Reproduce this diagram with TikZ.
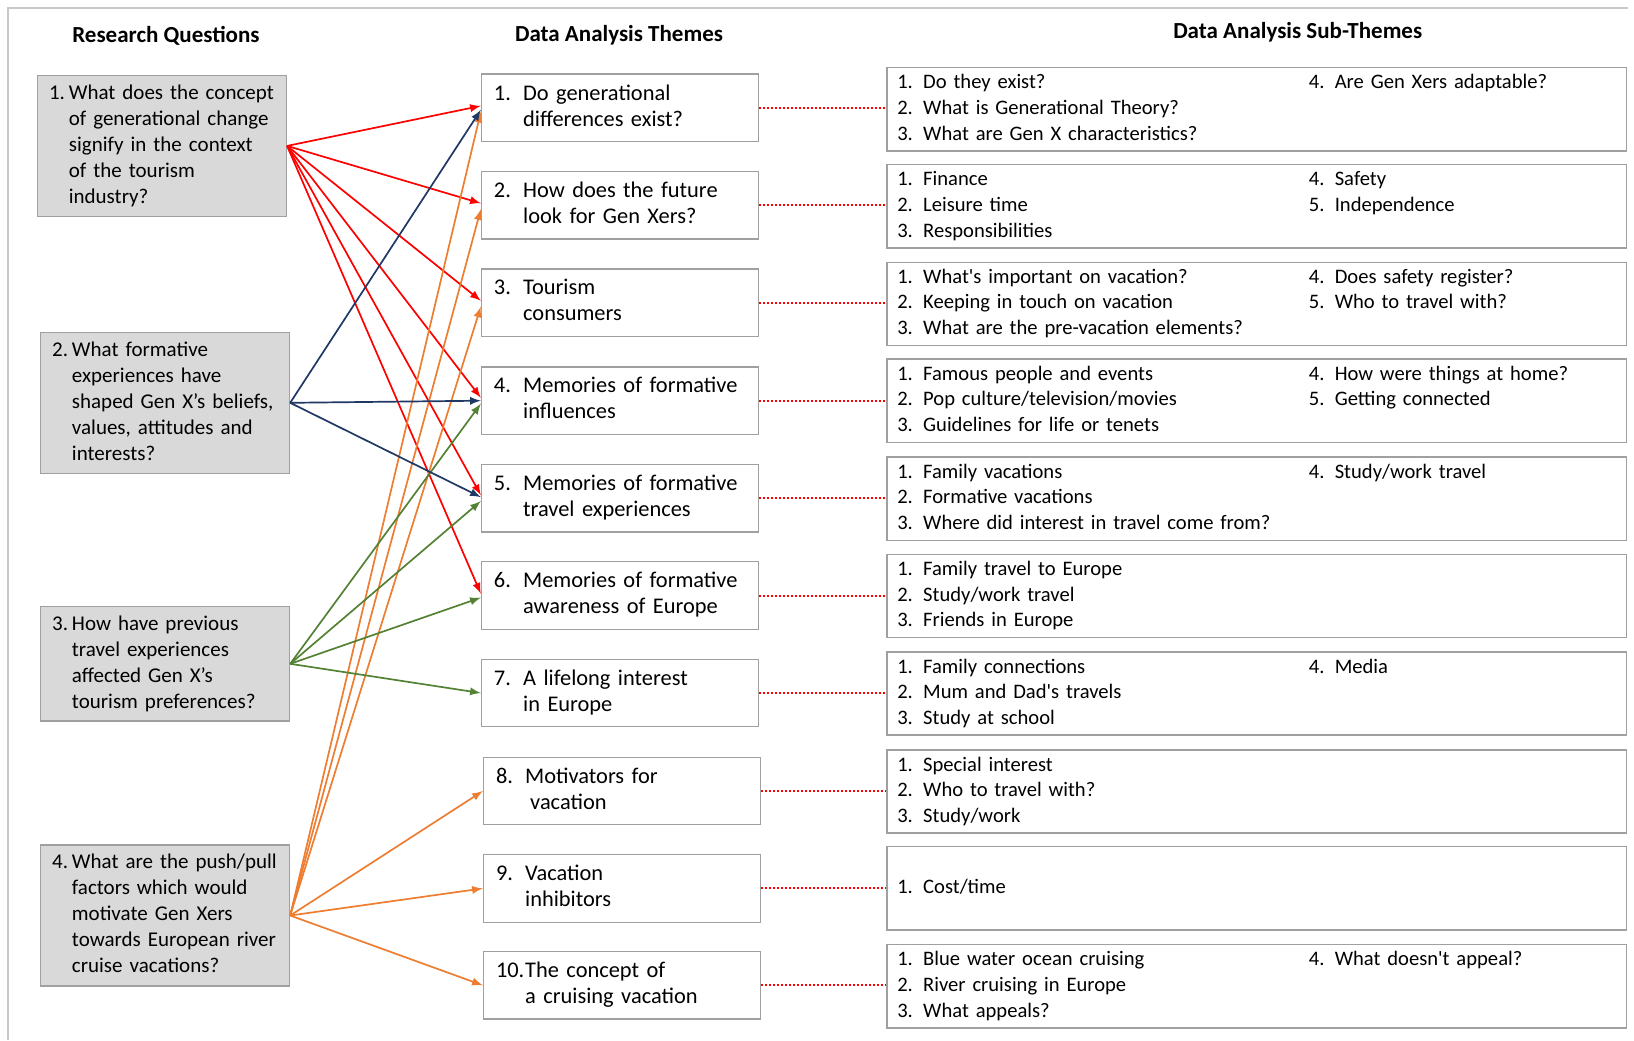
\documentclass[tikz,border=0pt]{standalone}
\usepackage{fontspec}
\setmainfont{Carlito}
\usepackage{tikz}
\usetikzlibrary{positioning, arrows, calc}

\definecolor{QRed}{HTML}{FF0000}
\definecolor{QNavy}{HTML}{203864}
\definecolor{QGreen}{HTML}{548235}
\definecolor{QOrange}{HTML}{ED7D31}
\definecolor{BoxGray}{HTML}{A0A0A0}
\definecolor{BoxFill}{HTML}{D9D9D9}
\definecolor{FrameGray}{HTML}{C8C8C8}

\newcommand{\qtext}[2]{\begin{tabular}{@{}p{9.9pt}@{}l@{}}#1&#2\end{tabular}}
\newcommand{\themetext}[3]{\begin{tabular}{@{}p{14.6pt}@{}l@{}}#1&#2\\&#3\end{tabular}}
\newcommand{\subtext}[1]{\begin{tabular}{@{}p{205.8pt}@{}l@{}}#1\end{tabular}}

\begin{document}
\begin{tikzpicture}[x=0.5pt, y=-0.5pt,
	heading/.style={font=\fontsize{11.5}{13}\selectfont\bfseries},
	question/.style={draw=BoxGray, fill=BoxFill, line width=0.65pt, text width=113pt,
		inner xsep=5.7pt, inner ysep=1pt, align=left, minimum height=70.5pt,
		font=\fontsize{10.5}{13}\selectfont},
	theme/.style={draw=BoxGray, line width=0.65pt, text width=126.1pt,
		inner xsep=6.25pt, inner ysep=1pt, align=left, minimum height=33.8pt,
		font=\fontsize{11.2}{13}\selectfont},
	subtheme/.style={draw=BoxGray, line width=0.65pt, text width=359.5pt,
		inner xsep=5.2pt, inner ysep=1pt, align=left, minimum height=41.6pt,
		font=\fontsize{10.3}{12.8}\selectfont},
	rqlink/.style={-latex, line width=0.85pt},
	dotlink/.style={QRed, densely dotted, line width=1pt}]
	
	\useasboundingbox (0,0) rectangle (1634,1040);
	\draw[FrameGray, line width=0.85pt] (1628,8) -- (8,8) -- (8,1040);
	
	%Headings
	\node (ResearchHead) at (166,35.5) [heading] {Research Questions};
	\node (ThemesHead) at (619,35.5) [heading] {Data Analysis Themes};
	\node (SubThemesHead) at (1297.7,32.3) [heading] {Data Analysis Sub-Themes};
	
	%Research questions
	\node (Question1) at (162.05,145.9) [question] {\qtext{1.}{What does the concept\\&of generational change\\&signify in the context\\&of the tourism\\&industry?}};
	\node (Question2) at (165.15,402.8) [question] {\qtext{2.}{What formative\\&experiences have\\&shaped Gen X’s beliefs,\\&values, attitudes and\\&interests?}};
	\node (Question3) at (165.15,663.8) [question, minimum height=57.3pt] {\qtext{3.}{How have previous\\&travel experiences\\&affected Gen X’s\\&tourism preferences?}};
	\node (Question4) at (165.15,915.5) [question] {\qtext{4.}{What are the push/pull\\&factors which would\\&motivate Gen Xers\\&towards European river\\&cruise vacations?}};
	
	%Themes
	\node (Theme1) at (620.05,107.9) [theme] {\themetext{1.}{Do generational}{differences exist?}};
	\node (Theme2) at (620.05,205.3) [theme] {\themetext{2.}{How does the future}{look for Gen Xers?}};
	\node (Theme3) at (620.05,302.7) [theme] {\themetext{3.}{Tourism}{consumers}};
	\node (Theme4) at (620.05,400.7) [theme] {\themetext{4.}{Memories of formative}{influences}};
	\node (Theme5) at (620.05,498.1) [theme] {\themetext{5.}{Memories of formative}{travel experiences}};
	\node (Theme6) at (620.05,595.6) [theme] {\themetext{6.}{Memories of formative}{awareness of Europe}};
	\node (Theme7) at (620.05,693) [theme] {\themetext{7.}{A lifelong interest}{in Europe}};
	\node (Theme8) at (622.1,791) [theme] {\themetext{8.}{Motivators for}{\hspace{2.5pt}vacation}};
	\node (Theme9) at (622.1,888.4) [theme] {\themetext{9.}{Vacation}{inhibitors}};
	\node (Theme10) at (622.1,985.3) [theme] {\themetext{10.}{The concept of}{a cruising vacation}};
	
	%Sub-themes
	\node (SubTheme1) at (1256.75,109.4) [subtheme] {\subtext{1. Do they exist? & 4. Are Gen Xers adaptable?\\2. What is Generational Theory? &\\3. What are Gen X characteristics? &}};
	\node (SubTheme2) at (1256.75,206.3) [subtheme] {\subtext{1. Finance & 4. Safety\\2. Leisure time & 5. Independence\\3. Responsibilities &}};
	\node (SubTheme3) at (1256.75,303.8) [subtheme] {\subtext{1. What\textquotesingle s important on vacation? & 4. Does safety register?\\2. Keeping in touch on vacation & 5. Who to travel with?\\3. What are the pre-vacation elements? &}};
	\node (SubTheme4) at (1256.75,400.7) [subtheme] {\subtext{1. Famous people and events & 4. How were things at home?\\2. Pop culture/television/movies & 5. Getting connected\\3. Guidelines for life or tenets &}};
	\node (SubTheme5) at (1256.75,498.6) [subtheme] {\subtext{1. Family vacations & 4. Study/work travel\\2. Formative vacations &\\3. Where did interest in travel come from? &}};
	\node (SubTheme6) at (1256.75,596.1) [subtheme] {\subtext{1. Family travel to Europe &\\2. Study/work travel &\\3. Friends in Europe &}};
	\node (SubTheme7) at (1256.75,693.5) [subtheme] {\subtext{1. Family connections & 4. Media\\2. Mum and Dad\textquotesingle s travels &\\3. Study at school &}};
	\node (SubTheme8) at (1256.75,791.5) [subtheme] {\subtext{1. Special interest &\\2. Who to travel with? &\\3. Study/work &}};
	\node (SubTheme9) at (1256.75,888.4) [subtheme] {\subtext{1. Cost/time &}};
	\node (SubTheme10) at (1256.75,986.3) [subtheme] {\subtext{1. Blue water ocean cruising & 4. What doesn\textquotesingle t appeal?\\2. River cruising in Europe &\\3. What appeals? &}};
	
	%Links theme to sub-theme
	\draw[dotlink] (Theme1.east) -- (Theme1.east -| SubTheme1.west);
	\draw[dotlink] (Theme2.east) -- (Theme2.east -| SubTheme2.west);
	\draw[dotlink] (Theme3.east) -- (Theme3.east -| SubTheme3.west);
	\draw[dotlink] (Theme4.east) -- (Theme4.east -| SubTheme4.west);
	\draw[dotlink] (Theme5.east) -- (Theme5.east -| SubTheme5.west);
	\draw[dotlink] (Theme6.east) -- (Theme6.east -| SubTheme6.west);
	\draw[dotlink] (Theme7.east) -- (Theme7.east -| SubTheme7.west);
	\draw[dotlink] (Theme8.east) -- (Theme8.east -| SubTheme8.west);
	\draw[dotlink] (Theme9.east) -- (Theme9.east -| SubTheme9.west);
	\draw[dotlink] (Theme10.east) -- (Theme10.east -| SubTheme10.west);
	
	%Links question to theme
	\draw[rqlink, QRed] (Question1.east) -- ([yshift=1pt]Theme1.west);
	\draw[rqlink, QRed] (Question1.east) -- ([yshift=1pt]Theme2.west);
	\draw[rqlink, QRed] (Question1.east) -- ([yshift=1pt]Theme3.west);
	\draw[rqlink, QRed] (Question1.east) -- ([yshift=1.5pt]Theme4.west);
	\draw[rqlink, QRed] (Question1.east) -- ([yshift=1.5pt]Theme5.west);
	\draw[rqlink, QRed] (Question1.east) -- ([yshift=1pt]Theme6.west);
	
	\draw[rqlink, QOrange] (Question4.east) -- ([yshift=-2pt]Theme1.west);
	\draw[rqlink, QOrange] (Question4.east) -- ([yshift=-2pt]Theme2.west);
	\draw[rqlink, QOrange] (Question4.east) -- ([yshift=-2pt]Theme3.west);
	\draw[rqlink, QOrange] (Question4.east) -- (Theme8.west);
	\draw[rqlink, QOrange] (Question4.east) -- (Theme9.west);
	\draw[rqlink, QOrange] (Question4.east) -- (Theme10.west);
	
	\draw[rqlink, QGreen] (Question3.east) -- ([yshift=-1.5pt]Theme4.west);
	\draw[rqlink, QGreen] (Question3.east) -- ([yshift=-1.5pt]Theme5.west);
	\draw[rqlink, QGreen] (Question3.east) -- ([yshift=-1pt]Theme6.west);
	\draw[rqlink, QGreen] (Question3.east) -- (Theme7.west);
	
	\draw[rqlink, QNavy] (Question2.east) -- ([yshift=-1pt]Theme1.west);
	\draw[rqlink, QNavy] (Question2.east) -- (Theme4.west);
	\draw[rqlink, QNavy] (Question2.east) -- ([yshift=0.5pt]Theme5.west);
	
\end{tikzpicture}
\end{document}
